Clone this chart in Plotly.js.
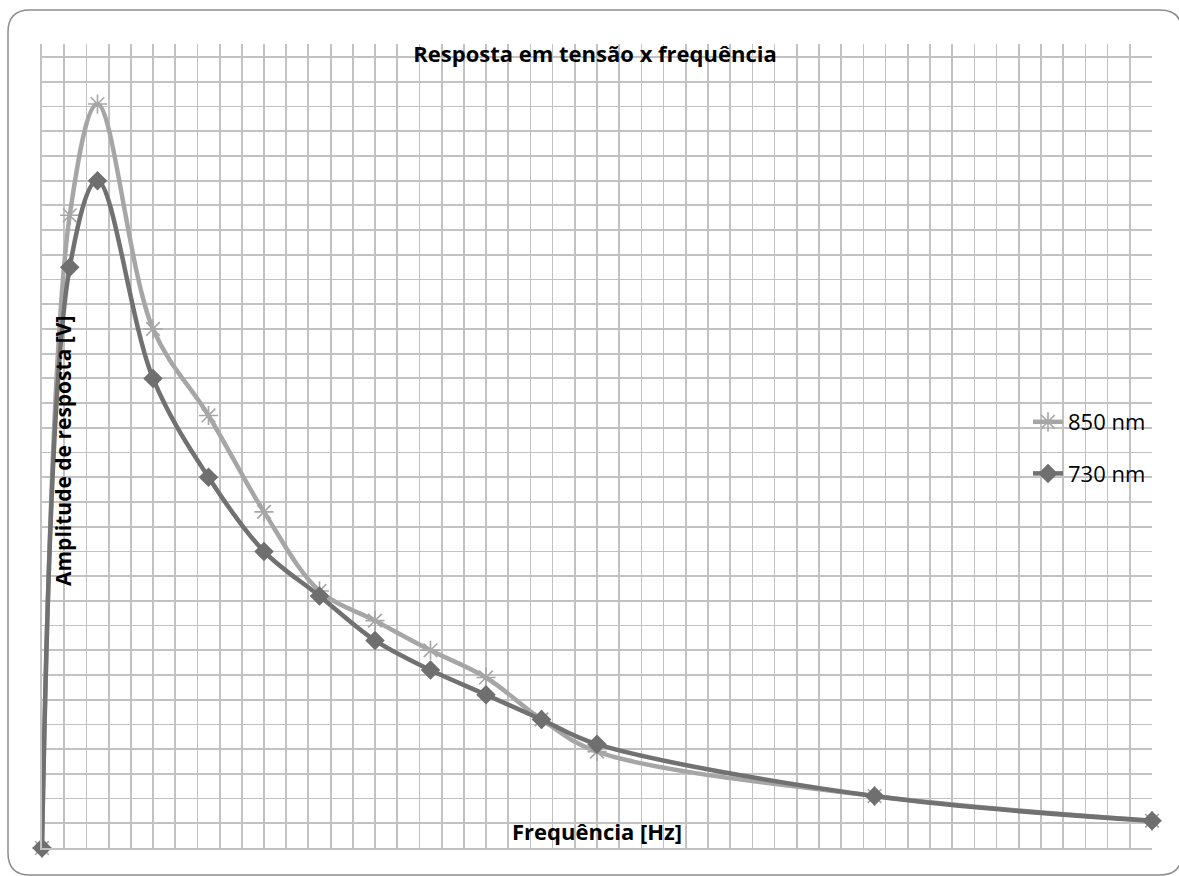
<!DOCTYPE html>
<html>
<head>
<meta charset="utf-8">
<script src="https://cdn.plot.ly/plotly-3.0.1.min.js"></script>
<style>
  html, body { margin: 0; padding: 0; background: #ffffff; }
  #chart { width: 1179px; height: 876px; }
</style>
</head>
<body>
<div id="chart"></div>
<script>
// Frequency [Hz]
const frequencies = [0, 25, 50, 100, 150, 200, 250, 300, 350, 400, 450, 500, 750, 1000];
// Response amplitude [V]
const amp850 = [0, 2.56, 3.01, 2.10, 1.75, 1.36, 1.04, 0.92, 0.80, 0.69, 0.52, 0.39, 0.21, 0.11];
const amp730 = [0, 2.35, 2.70, 1.90, 1.50, 1.20, 1.02, 0.84, 0.72, 0.62, 0.52, 0.42, 0.21, 0.11];
const seriesNames = ['850 nm', '730 nm'];

const W = 1179, H = 876;
const M = {l: 42, r: 27, t: 44, b: 28};
const PW = W - M.l - M.r, PH = H - M.t - M.b;
const px = x => (x - M.l) / PW;
const py = y => (H - M.b - y) / PH;

// rounded frame around the chart
function roundedRect(x0, y0, x1, y1, r) {
  return 'M ' + px(x0 + r) + ' ' + py(y0) +
    ' L ' + px(x1 - r) + ' ' + py(y0) +
    ' Q ' + px(x1) + ' ' + py(y0) + ' ' + px(x1) + ' ' + py(y0 + r) +
    ' L ' + px(x1) + ' ' + py(y1 - r) +
    ' Q ' + px(x1) + ' ' + py(y1) + ' ' + px(x1 - r) + ' ' + py(y1) +
    ' L ' + px(x0 + r) + ' ' + py(y1) +
    ' Q ' + px(x0) + ' ' + py(y1) + ' ' + px(x0) + ' ' + py(y1 - r) +
    ' L ' + px(x0) + ' ' + py(y0 + r) +
    ' Q ' + px(x0) + ' ' + py(y0) + ' ' + px(x0 + r) + ' ' + py(y0) + ' Z';
}

const FONT = 'Open Sans, Noto Sans, sans-serif';

const traces = [
  {
    x: frequencies, y: amp850, name: seriesNames[0], type: 'scatter', mode: 'lines+markers',
    line: {color: '#a6a6a6', width: 4.5, shape: 'spline', smoothing: 1},
    marker: {symbol: 'asterisk-open', size: 16, color: '#a6a6a6', line: {color: '#a6a6a6', width: 1.6}},
    cliponaxis: false, legendgroup: 'a'
  },
  {
    x: frequencies, y: amp730, name: seriesNames[1], type: 'scatter', mode: 'lines+markers',
    line: {color: '#717171', width: 4.5, shape: 'spline', smoothing: 1},
    marker: {symbol: 'diamond', size: 15, color: '#6f6f6f', line: {width: 0}},
    cliponaxis: false, legendgroup: 'b'
  }
];

const layout = {
  width: W, height: H,
  margin: M,
  paper_bgcolor: '#ffffff',
  plot_bgcolor: 'rgba(0,0,0,0)',
  showlegend: true,
  font: {family: FONT, color: '#000000'},
  xaxis: {
    range: [0, 1000], dtick: 20, tick0: 0,
    showgrid: true, gridcolor: '#c2c2c2', gridwidth: 1.8,
    showticklabels: false, ticks: '', zeroline: false,
    showline: true, linecolor: '#c2c2c2', linewidth: 1.8, mirror: false
  },
  yaxis: {
    range: [0, 3.253], dtick: 0.1, tick0: 0,
    showgrid: true, gridcolor: '#c2c2c2', gridwidth: 1.8,
    showticklabels: false, ticks: '', zeroline: false,
    showline: true, linecolor: '#c2c2c2', linewidth: 1.8
  },
  title: {
    text: '<b>Resposta em tensão x frequência</b>',
    font: {family: FONT, size: 22, color: '#000000'},
    x: px(595), xanchor: 'center', xref: 'paper',
    y: 1 - 54 / H, yanchor: 'middle', yref: 'container'
  },
  annotations: [
    {
      text: '<b>Frequência [Hz]</b>', xref: 'paper', yref: 'paper',
      x: px(597), y: py(831), xanchor: 'center', yanchor: 'middle',
      showarrow: false, font: {family: FONT, size: 22, color: '#000000'}
    },
    {
      text: '<b>Amplitude de resposta [V]</b>', xref: 'paper', yref: 'paper',
      x: px(63), y: py(451), xanchor: 'center', yanchor: 'middle', textangle: -90,
      showarrow: false, font: {family: FONT, size: 21, color: '#000000'}
    }
  ],
  legend: {
    x: px(1028), y: py(448), xanchor: 'left', yanchor: 'middle',
    bgcolor: 'rgba(0,0,0,0)', borderwidth: 0,
    font: {family: FONT, size: 22, color: '#000000'},
    tracegroupgap: 20, traceorder: 'grouped'
  },
  shapes: [
    {
      type: 'path', xref: 'paper', yref: 'paper', layer: 'above',
      path: roundedRect(8, 10, 1182, 875, 22),
      line: {color: '#8c8c8c', width: 1.5}, fillcolor: 'rgba(0,0,0,0)'
    }
  ]
};

Plotly.newPlot('chart', traces, layout, {displayModeBar: false, staticPlot: true});
</script>
</body>
</html>
